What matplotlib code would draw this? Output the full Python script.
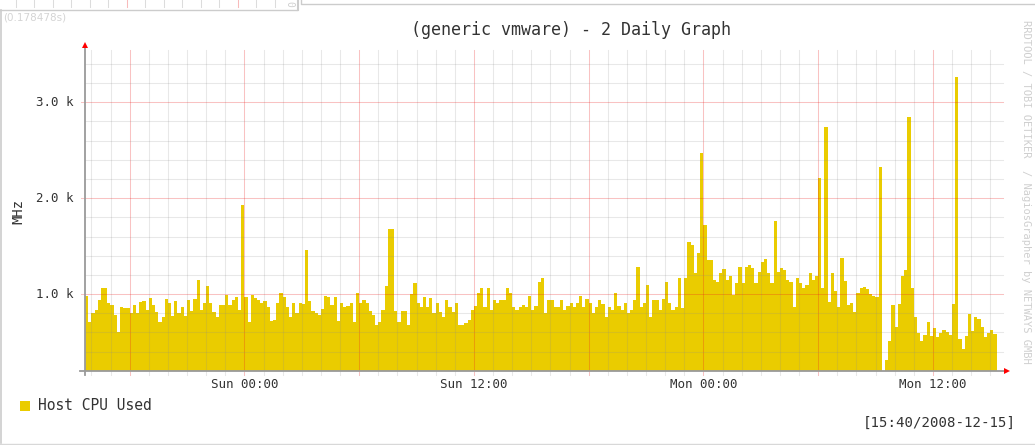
import numpy as np
import matplotlib
matplotlib.use("Agg")
import matplotlib.pyplot as plt
from matplotlib.lines import Line2D
from matplotlib.patches import Rectangle
from matplotlib.transforms import blended_transform_factory

W, H, DPI = 1035, 445, 100
MONO = "DejaVu Sans Mono"

# Host CPU used (MHz), one sample every 10 minutes starting Sat 15:40
cpu_sat_evening = [
    980, 710, 805, 833, 937, 1060, 1060, 910, 885, 780,
    600, 868, 850, 850, 800, 885, 805, 920, 927, 833,
    955, 885, 815, 710, 757, 945, 910, 770, 930, 800,
    860, 770, 937, 826, 945, 1146, 833, 903, 1083, 910,
    815, 757, 885, 885, 990, 885, 937, 965, 833, 1930,
    965, 710, 990, 955, 937, 910, 930, 868, 720, 728,
    910, 1014, 972, 868, 757, 903, 805, 910, 896, 1460,
    930, 826,
]
cpu_sun_morning = [
    800, 780, 840, 980, 965, 885, 965, 720, 903, 868,
    875, 903, 710, 1014, 903, 937, 903, 826, 780, 675,
    710, 833, 1083, 1675, 1675, 826, 710, 826, 826, 675,
    1000, 1118, 903, 868, 965, 868, 955, 800, 910, 815,
    757, 937, 868, 815, 903, 675, 675, 693, 728, 833,
    875, 1014, 1060, 868, 1060, 833, 937, 910, 937, 937,
    1060, 1007, 868, 833, 861, 885, 868, 980, 833, 875,
    1130, 1163,
]
cpu_sun_evening = [
    800, 937, 937, 868, 868, 937, 833, 875, 903, 868,
    903, 980, 868, 945, 903, 800, 868, 937, 896, 763,
    868, 833, 1014, 875, 833, 903, 800, 833, 937, 1278,
    868, 903, 1094, 757, 937, 937, 833, 945, 1130, 903,
    833, 868, 1163, 850, 1163, 1546, 1511, 1216, 1424, 2470,
    1720, 1355, 1355, 1146, 1130, 1216, 1257, 1146, 1188, 990,
    1111, 1278, 1111, 1278, 1302, 1268, 1111, 1233, 1337, 1362,
    1216, 1111,
]
cpu_mon = [
    1766, 1233, 1268, 1250, 1146, 1129, 868, 1164, 1111, 1059,
    1094, 1216, 1146, 1188, 2207, 1059, 2740, 920, 1216, 1035,
    861, 1372, 1139, 885, 910, 816, 1007, 1059, 1070, 1049,
    1000, 979, 972, 2322, np.nan, 311, 513, 885, 652, 896,
    1188, 1250, 2851, 1059, 763, 596, 513, 572, 711, 562,
    641, 555, 596, 624, 607, 572, 896, 3269, 527, 422,
    562, 791, 617, 756, 736, 659, 548, 596, 624, 586,
]
cpu_used = np.array(cpu_sat_evening + cpu_sun_morning + cpu_sun_evening + cpu_mon,
                    dtype=float)

# time axis in hours relative to Sun 00:00
step_h = 10 / 60
start_h = -(8 + 20 / 60)      # Sat 15:40
end_h = 39 + 40 / 60          # Mon 15:40

x_ticks_h = [0, 12, 24, 36]
x_tick_labels = ["Sun 00:00", "Sun 12:00", "Mon 00:00", "Mon 12:00"]
y_ticks = [1000, 2000, 3000]
y_tick_labels = ["1.0 k", "2.0 k", "3.0 k"]
y_min, y_max = 200, 3550

title = "(generic vmware) - 2 Daily Graph"
series_name = "Host CPU Used"
unit = "MHz"
stamp = "[15:40/2008-12-15]"
credit = "RRDTOOL / TOBI OETIKER  / NagiosGrapher by NETWAYS GMBH"
render_time = "(0.178478s)"

AREA = "#EACC00"
GRID = (0.55, 0.55, 0.55, 0.20)
MGRID = (0.92, 0.12, 0.12, 0.27)
AXIS = "#9a9a9a"
FONT = "#333333"
FRAME = "#cccccc"


def fx(px):
    return px / W


def fy(py):
    return 1 - py / H


fig = plt.figure(figsize=(W / DPI, H / DPI), dpi=DPI)
fig.patch.set_facecolor("white")

ax_l, ax_r, ax_t, ax_b = 85, 1003, 49.6, 370.7
ax = fig.add_axes([fx(ax_l), fy(ax_b), (ax_r - ax_l) / W, (ax_b - ax_t) / H])
ax.set_xlim(start_h, end_h)
ax.set_ylim(y_min, y_max)
ax.set_axis_off()

# stepped area: each sample fills its 10-minute slot
edges = start_h + np.arange(len(cpu_used) + 1) * step_h
xs = np.column_stack([edges[:-1], edges[1:]]).ravel()
ys = np.repeat(cpu_used, 2)
ax.fill_between(xs, ys, 0, color=AREA, linewidth=0, zorder=2)

# grid drawn over the area
px_per_axes_y = ax_b - ax_t
tick_ext = -4 / px_per_axes_y
for h in range(-8, 40):
    major = h % 6 == 0
    ax.axvline(h, ymin=tick_ext, ymax=1, color=MGRID if major else GRID,
               lw=0.75, zorder=3, clip_on=False)
for v in range(400, y_max, 200):
    major = v % 1000 == 0
    ax.axhline(v, xmin=-4 / (ax_r - ax_l) if major else 0, xmax=1,
               color=MGRID if major else GRID, lw=0.75, zorder=3, clip_on=False)

# axes with arrow heads
fig.add_artist(Line2D([fx(ax_l), fx(ax_l)], [fy(375), fy(46)], color=AXIS, lw=1.3,
                      transform=fig.transFigure))
fig.add_artist(Line2D([fx(80), fx(1006)], [fy(ax_b), fy(ax_b)], color=AXIS, lw=1.3,
                      transform=fig.transFigure))
fig.add_artist(Line2D([fx(ax_l)], [fy(45)], marker="^", markersize=4.5, color="red",
                      markeredgewidth=0, transform=fig.transFigure))
fig.add_artist(Line2D([fx(1007)], [fy(ax_b)], marker=">", markersize=4.5, color="red",
                      markeredgewidth=0, transform=fig.transFigure))

# tick labels
ty = blended_transform_factory(fig.transFigure, ax.transData)
for v, lab in zip(y_ticks, y_tick_labels):
    ax.text(fx(73), v, lab, transform=ty, ha="right", va="center",
            family=MONO, fontsize=9, color=FONT)
tx = blended_transform_factory(ax.transData, fig.transFigure)
for h, lab in zip(x_ticks_h, x_tick_labels):
    ax.text(h, fy(385), lab, transform=tx, ha="center", va="center",
            family=MONO, fontsize=9, color=FONT)

fig.text(fx(571), fy(30), title, ha="center", va="center", family=MONO,
         fontsize=12, color=FONT)
fig.text(fx(18), fy(211), unit, ha="center", va="center", rotation=90,
         family=MONO, fontsize=10, color=FONT)

# legend entry and timestamp
fig.add_artist(Rectangle((fx(20), fy(411)), 10 / W, 10 / H, facecolor=AREA,
                         edgecolor="none", transform=fig.transFigure))
fig.text(fx(38), fy(406), series_name, ha="left", va="center", family=MONO,
         fontsize=10.5, color=FONT)
fig.text(fx(1016), fy(423), stamp, ha="right", va="center", family=MONO,
         fontsize=10.2, color=FONT)

fig.text(fx(1026), fy(192), credit, ha="center", va="center", rotation=270,
         family=MONO, fontsize=7.5, color="#cfcfcf")
fig.text(fx(3), fy(18), render_time, ha="left", va="center", fontsize=7.5,
         color="#d4d4d4")

# bottom edge of the graph above: its grid ticks, credit tail and frame
for i in range(15):
    px = 15.5 + 18.5 * i
    col = (0.92, 0.12, 0.12, 0.30) if i in (6, 12) else (0.55, 0.55, 0.55, 0.30)
    fig.add_artist(Line2D([fx(px), fx(px)], [fy(0), fy(7)], color=col, lw=0.75,
                          transform=fig.transFigure))
fig.text(fx(289), fy(4), "0", ha="center", va="center", rotation=270,
         family=MONO, fontsize=7, color="#cfcfcf")
fig.add_artist(Line2D([0, fx(297)], [fy(9.5), fy(9.5)], color=FRAME, lw=1,
                      transform=fig.transFigure))
fig.add_artist(Line2D([fx(297.5), fx(297.5)], [fy(0), fy(9.5)], color=FRAME, lw=1.5,
                      transform=fig.transFigure))
fig.add_artist(Line2D([fx(301), fx(301), 1], [fy(0), fy(3.5), fy(3.5)], color=FRAME,
                      lw=1, transform=fig.transFigure))

# page frame
fig.add_artist(Line2D([fx(0.8), fx(0.8)], [fy(9.5), fy(443)], color=FRAME, lw=1.2,
                      transform=fig.transFigure))
fig.add_artist(Line2D([0, 1], [fy(443.5), fy(443.5)], color="#d8d8d8", lw=1,
                      transform=fig.transFigure))

fig.savefig("out.png", dpi=DPI, facecolor="white")
